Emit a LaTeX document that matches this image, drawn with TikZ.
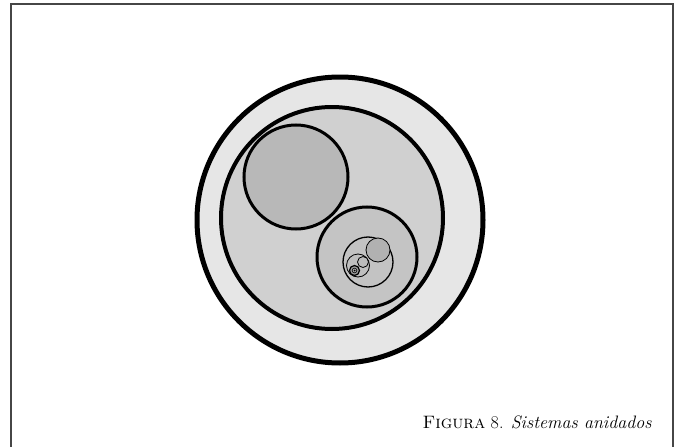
\documentclass[tikz,border=0pt]{standalone}
\usepackage{fontspec}
\usepackage{tikz}
\usetikzlibrary{positioning}
\definecolor{ringgray}{RGB}{230,230,230}
\definecolor{midgray}{RGB}{208,208,208}
\definecolor{darkgray}{RGB}{184,184,184}
\definecolor{subgray}{RGB}{196,196,196}
\definecolor{framegray}{RGB}{70,70,70}
\tikzset{capnode/.style={anchor=base east, inner sep=0pt, font=\fontsize{18}{21}\selectfont}}

\begin{document}
\begin{tikzpicture}[x=1pt, y=-1pt,
  frame/.style={draw=framegray, line width=1.4pt},
  orb/.style={draw=black, line width=#1}]
  \useasboundingbox (0,0) rectangle (681,447);
  \draw[frame] (11,447) -- (11,4) -- (673,4) -- (673,447);
  % outer system
  \draw[orb=5pt, fill=ringgray] (340,220) circle (143);
  \draw[orb=4pt, fill=midgray] (332,218) circle (111);
  % two subsystems
  \draw[orb=3pt, fill=darkgray] (296,177) circle (52);
  \draw[orb=3pt, fill=subgray] (367,257) circle (50);
  % nested ones
  \draw[orb=1.3pt, fill=darkgray!85] (368,262) circle (25);
  \draw[orb=0.8pt, fill=darkgray!110] (378,250) circle (12);
  \draw[orb=0.8pt, fill=darkgray!90] (358,265.5) circle (11.5);
  \draw[orb=0.8pt, fill=darkgray!95] (363,262) circle (5.5);
  \draw[orb=1.2pt, fill=gray!80] (354.5,270.5) circle (5);
  \draw[orb=0.6pt, fill=gray!60] (354.5,270.5) circle (2.3);
  \fill (354.5,270.5) circle (1);
  \node[capnode] (cap) at (652,428) {\textsc{Figura} 8. \textit{Sistemas anidados}};
\end{tikzpicture}
\end{document}
